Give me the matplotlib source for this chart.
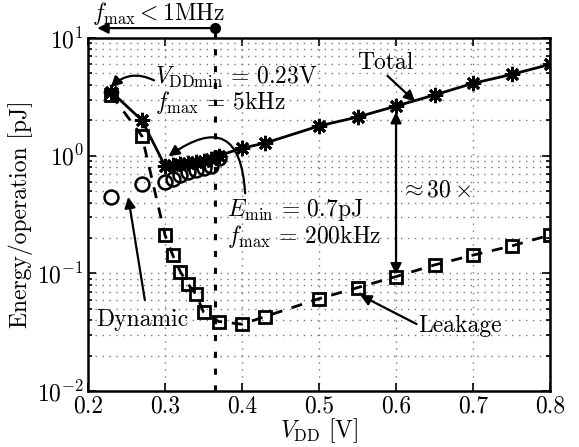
import matplotlib
matplotlib.use("Agg")
import matplotlib.pyplot as plt
from matplotlib.ticker import LogLocator, FixedLocator, NullFormatter

plt.rcParams['font.family'] = 'serif'
plt.rcParams['font.serif'] = ['cmr10', 'DejaVu Serif']
plt.rcParams['mathtext.fontset'] = 'cm'
plt.rcParams['axes.formatter.use_mathtext'] = True

# ---- data ----
vdd_total = [0.23, 0.27, 0.30, 0.31, 0.32, 0.33, 0.34, 0.35, 0.36, 0.37,
             0.40, 0.43, 0.50, 0.55, 0.60, 0.65, 0.70, 0.75, 0.80]
e_total = [3.5, 2.0, 0.82, 0.83, 0.85, 0.87, 0.89, 0.91, 0.94, 1.0,
           1.16, 1.28, 1.79, 2.13, 2.64, 3.28, 4.12, 4.9, 5.97]

vdd_dyn = [0.23, 0.27, 0.30, 0.31, 0.32, 0.33, 0.34, 0.35, 0.36, 0.37]
e_dyn = [0.45, 0.58, 0.60, 0.64, 0.68, 0.72, 0.755, 0.79, 0.82, 0.95]

vdd_leak = [0.23, 0.27, 0.30, 0.31, 0.32, 0.33, 0.34, 0.35, 0.37,
            0.40, 0.43, 0.50, 0.55, 0.60, 0.65, 0.70, 0.75, 0.80]
e_leak = [3.3, 1.47, 0.212, 0.143, 0.103, 0.081, 0.067, 0.047, 0.039,
          0.037, 0.043, 0.061, 0.0757, 0.094, 0.118, 0.143, 0.171, 0.212]

x_ticks = [0.2, 0.3, 0.4, 0.5, 0.6, 0.7, 0.8]
x_tick_labels = ['0.2', '0.3', '0.4', '0.5', '0.6', '0.7', '0.8']
v_fmax = 0.365

fig = plt.figure(figsize=(5.79, 4.47), dpi=100)
ax = fig.add_axes([0.152, 0.125, 0.798, 0.790])

FS = 17

ax.plot(vdd_leak, e_leak, color='black', ls=(0, (4, 3.5)), lw=2,
        marker='s', ms=8, mfc='none', mec='black', mew=2, zorder=3)
ax.plot(vdd_dyn, e_dyn, ls='none', marker='o', ms=10, mfc='none',
        mec='black', mew=1.8, zorder=3)
ax.plot(vdd_total, e_total, color='black', lw=2, marker=(8, 2, 0), ms=11,
        mew=2, zorder=4)

ax.set_yscale('log')
ax.set_xlim(0.2, 0.8)
ax.set_ylim(1e-2, 1e1)
ax.xaxis.set_major_locator(FixedLocator(x_ticks))
ax.set_xticklabels(x_tick_labels)
ax.yaxis.set_minor_locator(LogLocator(base=10, subs=range(2, 10)))
ax.yaxis.set_minor_formatter(NullFormatter())
ax.tick_params(which='both', direction='in', top=True, right=True,
               labelsize=FS, width=1.2)
ax.tick_params(which='major', length=6, pad=3)
ax.tick_params(axis='x', which='major', pad=3)
ax.tick_params(which='minor', length=3)
ax.grid(True, which='major', axis='both', ls=(0, (1, 4)), color='#777777', lw=1)
ax.grid(True, which='minor', axis='y', ls=(0, (1, 4)), color='#777777', lw=1)
for s in ax.spines.values():
    s.set_linewidth(1.8)

ax.set_xlabel(r'$V_{\mathrm{DD}}$ [V]', fontsize=FS, labelpad=-1)
ax.set_ylabel('Energy/operation [pJ]', fontsize=FS, labelpad=3)

trx = ax.get_xaxis_transform()
# vertical f_max line
ax.plot([v_fmax, v_fmax], [0.0, 1.028], transform=trx, color='black',
        lw=2.2, ls=(0, (2, 3.5)), clip_on=False, zorder=2)
ax.plot([v_fmax], [1.028], transform=trx, marker='o', ms=7, color='black',
        clip_on=False)
ax.annotate('', xy=(0.212, 1.028), xycoords=trx, xytext=(v_fmax, 1.028),
            textcoords=trx, annotation_clip=False,
            arrowprops=dict(arrowstyle='-|>', color='black', lw=1.6,
                            mutation_scale=16, shrinkA=0, shrinkB=0))
ax.text(0.292, 1.052, r'$f_{\max} < 1$MHz', transform=trx, fontsize=FS,
        ha='center', va='baseline')

tra = ax.transAxes
# V_DDmin annotation
ax.text(0.145, 0.889, r'$V_{\mathrm{DDmin}} \,=\, 0.23$V', transform=tra,
        fontsize=FS, ha='left', va='center')
ax.text(0.145, 0.816, r'$f_{\max} \,=\, 5$kHz', transform=tra,
        fontsize=FS, ha='left', va='center')
ax.annotate('', xy=(0.049, 0.86), xycoords=tra, xytext=(0.143, 0.88),
            textcoords=tra,
            arrowprops=dict(arrowstyle='-|>', color='black', lw=1.6,
                            mutation_scale=16, shrinkA=0, shrinkB=0,
                            connectionstyle='arc3,rad=0.35'))

# Total
ax.text(0.643, 0.929, 'Total', transform=tra, fontsize=FS, ha='center',
        va='center')
ax.annotate('', xy=(0.708, 0.82), xycoords=tra, xytext=(0.648, 0.893),
            textcoords=tra,
            arrowprops=dict(arrowstyle='-|>', color='black', lw=1.6,
                            mutation_scale=16, shrinkA=0, shrinkB=0))

# E_min annotation
ax.text(0.30, 0.513, r'$E_{\min} \,=\, 0.7$pJ', transform=tra, fontsize=FS,
        ha='left', va='center')
ax.text(0.30, 0.438, r'$f_{\max} \,=\, 200$kHz', transform=tra, fontsize=FS,
        ha='left', va='center')
ax.annotate('', xy=(0.174, 0.665), xycoords=tra, xytext=(0.34, 0.56),
            textcoords=tra,
            arrowprops=dict(arrowstyle='-|>', color='black', lw=1.6,
                            mutation_scale=16, shrinkA=0, shrinkB=0,
                            connectionstyle='arc3,rad=0.9'))

# ~30x
ax.text(0.752, 0.569, r'$\approx 30\times$', transform=tra, fontsize=FS,
        ha='center', va='center')
ax.annotate('', xy=(0.6, 0.098), xycoords='data', xytext=(0.6, 2.35),
            textcoords='data',
            arrowprops=dict(arrowstyle='<|-|>', color='black', lw=1.6,
                            mutation_scale=16, shrinkA=0, shrinkB=0))

# Dynamic
ax.text(0.117, 0.201, 'Dynamic', transform=tra, fontsize=FS, ha='center',
        va='center')
ax.annotate('', xy=(0.087, 0.550), xycoords=tra, xytext=(0.123, 0.258),
            textcoords=tra,
            arrowprops=dict(arrowstyle='-|>', color='black', lw=1.6,
                            mutation_scale=16, shrinkA=0, shrinkB=0))

# Leakage
ax.text(0.805, 0.185, 'Leakage', transform=tra, fontsize=FS, ha='center',
        va='center')
ax.annotate('', xy=(0.589, 0.272), xycoords=tra, xytext=(0.711, 0.19),
            textcoords=tra,
            arrowprops=dict(arrowstyle='-|>', color='black', lw=1.6,
                            mutation_scale=16, shrinkA=0, shrinkB=0))

fig.savefig('out.png', dpi=100)
